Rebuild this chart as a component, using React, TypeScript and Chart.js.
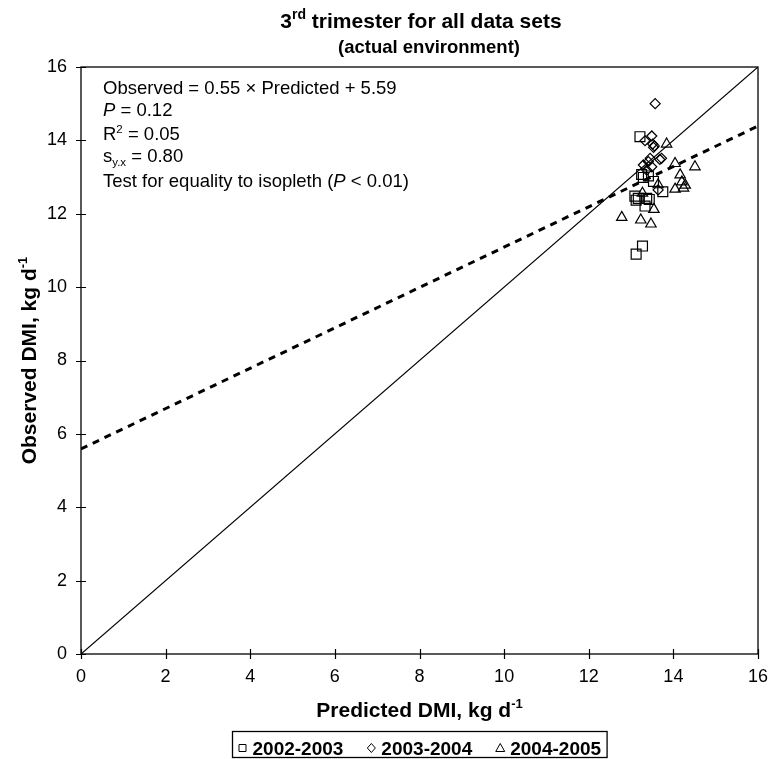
import React, { useEffect, useRef } from 'react';
import { Chart, registerables } from 'chart.js';

Chart.register(...registerables);

const FONT = '"Liberation Sans", Arial, Helvetica, sans-serif';

// Axis ticks
const xTickValues = [0, 2, 4, 6, 8, 10, 12, 14, 16];
const yTickValues = [0, 2, 4, 6, 8, 10, 12, 14, 16];

// Series (Predicted DMI, Observed DMI)
const seriesNames = ['2002-2003', '2003-2004', '2004-2005'];

const pred2002 = [13.21, 13.25, 13.29, 13.41, 13.53, 13.75, 13.09, 13.12, 13.17, 13.37, 13.43, 13.33, 13.27, 13.12];
const obs2002 = [14.10, 13.07, 12.99, 13.03, 12.88, 12.60, 12.48, 12.37, 12.42, 12.42, 12.39, 12.21, 11.12, 10.90];

const pred2003 = [13.57, 13.49, 13.33, 13.51, 13.53, 13.45, 13.41, 13.68, 13.72, 13.49, 13.37, 13.29, 13.64, 13.55];
const obs2003 = [15.00, 14.12, 13.99, 13.90, 13.81, 13.51, 13.42, 13.48, 13.51, 13.28, 13.19, 13.33, 12.65, 13.85];

const pred2004 = [13.84, 14.04, 14.51, 14.16, 14.20, 14.28, 14.04, 14.24, 13.64, 13.27, 13.54, 12.78, 13.23, 13.47];
const obs2004 = [13.90, 13.37, 13.28, 13.06, 12.87, 12.78, 12.67, 12.70, 12.79, 12.56, 12.12, 11.90, 11.83, 11.72];

// Isopleth (1:1) and fitted regression line end points
const isoX = [0, 16];
const isoY = [0, 16];
const regX = [0, 16];
const regY = [5.59, 14.39];

const toPts = (xs: number[], ys: number[]) => xs.map((x, i) => ({ x, y: ys[i] }));

type Run = { t: string; font: string; dy?: number };
function drawRuns(ctx: CanvasRenderingContext2D, x: number, y: number, runs: Run[]) {
  let cx = x;
  for (const r of runs) {
    ctx.font = r.font;
    ctx.fillText(r.t, cx, y + (r.dy || 0));
    cx += ctx.measureText(r.t).width;
  }
  return cx - x;
}
function runsWidth(ctx: CanvasRenderingContext2D, runs: Run[]) {
  let w = 0;
  for (const r of runs) {
    ctx.font = r.font;
    w += ctx.measureText(r.t).width;
  }
  return w;
}

const annotPlugin = {
  id: 'annot',
  afterDraw(chart: any) {
    const ctx: CanvasRenderingContext2D = chart.ctx;
    const { left, right, top, bottom } = chart.chartArea;
    const xs = chart.scales.x;
    const ys = chart.scales.y;
    ctx.save();
    ctx.strokeStyle = '#000';
    ctx.fillStyle = '#000';
    ctx.lineWidth = 1.3;
    // frame
    ctx.strokeRect(left, top, right - left, bottom - top);
    // crossing tick marks
    ctx.lineWidth = 1.2;
    ctx.beginPath();
    for (const v of xTickValues) {
      const px = Math.round(xs.getPixelForValue(v)) + 0.5;
      ctx.moveTo(px, bottom - 5);
      ctx.lineTo(px, bottom + 5);
    }
    for (const v of yTickValues) {
      const py = Math.round(ys.getPixelForValue(v)) + 0.5;
      ctx.moveTo(left - 5, py);
      ctx.lineTo(left + 5, py);
    }
    ctx.stroke();

    ctx.textBaseline = 'alphabetic';
    ctx.textAlign = 'left';
    // Title
    const boldT1 = `bold 21px ${FONT}`;
    const boldSup = `bold 14px ${FONT}`;
    const boldT2 = `bold 18.5px ${FONT}`;
    const t1: Run[] = [
      { t: '3', font: boldT1 },
      { t: 'rd', font: boldSup, dy: -9 },
      { t: ' trimester for all data sets', font: boldT1 },
    ];
    drawRuns(ctx, 421 - runsWidth(ctx, t1) / 2, 28, t1);
    const t2: Run[] = [{ t: '(actual environment)', font: boldT2 }];
    drawRuns(ctx, 429 - runsWidth(ctx, t2) / 2, 53, t2);

    // Statistics text block
    const reg = `18.5px ${FONT}`;
    const ital = `italic 18.5px ${FONT}`;
    const small = `11.5px ${FONT}`;
    const tx = 103;
    drawRuns(ctx, tx, 94, [{ t: 'Observed = 0.55 \u00d7 Predicted + 5.59', font: reg }]);
    drawRuns(ctx, tx, 116, [{ t: 'P', font: ital }, { t: ' = 0.12', font: reg }]);
    drawRuns(ctx, tx, 140, [{ t: 'R', font: reg }, { t: '2', font: small, dy: -7 }, { t: ' = 0.05', font: reg }]);
    drawRuns(ctx, tx, 162, [{ t: 's', font: reg }, { t: 'y.x', font: small, dy: 4 }, { t: ' = 0.80', font: reg }]);
    drawRuns(ctx, tx, 187, [
      { t: 'Test for equality to isopleth (', font: reg },
      { t: 'P', font: ital },
      { t: ' < 0.01)', font: reg },
    ]);

    // Axis titles
    const boldAx = `bold 21px ${FONT}`;
    const supB = `bold 13px ${FONT}`;
    const xt: Run[] = [{ t: 'Predicted DMI, kg d', font: boldAx }, { t: '-1', font: supB, dy: -9 }];
    const xcx = (left + right) / 2;
    drawRuns(ctx, xcx - runsWidth(ctx, xt) / 2, 717, xt);
    const yt: Run[] = [{ t: 'Observed DMI, kg d', font: boldAx }, { t: '-1', font: supB, dy: -9 }];
    ctx.save();
    ctx.translate(36, (top + bottom) / 2);
    ctx.rotate(-Math.PI / 2);
    drawRuns(ctx, -runsWidth(ctx, yt) / 2, 0, yt);
    ctx.restore();

    // Legend
    const legFont = `bold 19px ${FONT}`;
    ctx.font = legFont;
    const styles = ['rect', 'rectRot', 'triangle'];
    const markerW = 8;
    const gapMT = 6;
    const gapItems = 24;
    let total = 0;
    const widths = seriesNames.map((n) => ctx.measureText(n).width);
    widths.forEach((w, i) => {
      total += markerW + gapMT + w + (i < widths.length - 1 ? gapItems : 0);
    });
    const padX = 6;
    const boxLeft = Math.round(xcx - total / 2 - padX) + 0.5;
    const boxTop = 731.5;
    ctx.lineWidth = 1.3;
    ctx.strokeRect(boxLeft, boxTop, total + padX * 2, 26);
    let cx = boxLeft + padX;
    const midY = 748;
    seriesNames.forEach((n, i) => {
      ctx.lineWidth = 1;
      ctx.beginPath();
      const mx = cx + markerW / 2;
      if (styles[i] === 'rect') {
        ctx.rect(mx - 3.5, midY - 3.5, 7, 7);
      } else if (styles[i] === 'rectRot') {
        ctx.moveTo(mx, midY - 4.5);
        ctx.lineTo(mx + 4, midY);
        ctx.lineTo(mx, midY + 4.5);
        ctx.lineTo(mx - 4, midY);
        ctx.closePath();
      } else {
        ctx.moveTo(mx, midY - 4.5);
        ctx.lineTo(mx + 4.5, midY + 3.5);
        ctx.lineTo(mx - 4.5, midY + 3.5);
        ctx.closePath();
      }
      ctx.stroke();
      ctx.font = legFont;
      ctx.fillText(n, cx + markerW + gapMT, 755);
      cx += markerW + gapMT + widths[i] + gapItems;
    });
    ctx.restore();
  },
};

export default function App() {
  const ref = useRef<HTMLCanvasElement>(null);
  useEffect(() => {
    const canvas = ref.current!;
    const tickFont = { family: FONT, size: 18 };
    const chart = new Chart(canvas, {
      type: 'scatter',
      data: {
        datasets: [
          {
            label: 'Isopleth',
            data: toPts(isoX, isoY),
            showLine: true,
            borderColor: '#000',
            borderWidth: 1.2,
            pointRadius: 0,
          },
          {
            label: 'Regression',
            data: toPts(regX, regY),
            showLine: true,
            borderColor: '#000',
            borderWidth: 3,
            borderDash: [7, 6],
            pointRadius: 0,
          },
          {
            label: seriesNames[0],
            data: toPts(pred2002, obs2002),
            pointStyle: 'rect',
            pointRadius: 7,
            borderColor: '#000',
            borderWidth: 1.2,
            backgroundColor: 'rgba(0,0,0,0)',
          },
          {
            label: seriesNames[1],
            data: toPts(pred2003, obs2003),
            pointStyle: 'rectRot',
            pointRadius: 5,
            borderColor: '#000',
            borderWidth: 1.2,
            backgroundColor: 'rgba(0,0,0,0)',
          },
          {
            label: seriesNames[2],
            data: toPts(pred2004, obs2004),
            pointStyle: 'triangle',
            pointRadius: 6,
            borderColor: '#000',
            borderWidth: 1.2,
            backgroundColor: 'rgba(0,0,0,0)',
          },
        ],
      },
      options: {
        responsive: false,
        animation: false,
        devicePixelRatio: 1,
        layout: { padding: { left: 0, right: 11, top: 67, bottom: 0 } },
        plugins: {
          legend: { display: false },
          title: { display: false },
          tooltip: { enabled: false },
        },
        scales: {
          x: {
            type: 'linear',
            min: 0,
            max: 16,
            grid: { display: false, drawTicks: false },
            border: { display: false },
            ticks: {
              stepSize: 2,
              color: '#000',
              font: tickFont,
              padding: 12,
              maxRotation: 0,
            },
            afterFit: (s: any) => {
              s.height = 105;
              s.paddingLeft = 0;
              s.paddingRight = 0;
            },
          },
          y: {
            type: 'linear',
            min: 0,
            max: 16,
            grid: { display: false, drawTicks: false },
            border: { display: false },
            ticks: {
              stepSize: 2,
              color: '#000',
              font: tickFont,
              padding: 14,
            },
            afterFit: (s: any) => {
              s.width = 81;
              s.paddingTop = 0;
              s.paddingBottom = 0;
            },
          },
        },
      },
      plugins: [annotPlugin],
    } as any);
    return () => chart.destroy();
  }, []);
  return (
    <div style={{ position: 'absolute', left: 0, top: 0, width: 769, height: 759 }}>
      <canvas ref={ref} width={769} height={759} style={{ display: 'block' }} />
    </div>
  );
}
